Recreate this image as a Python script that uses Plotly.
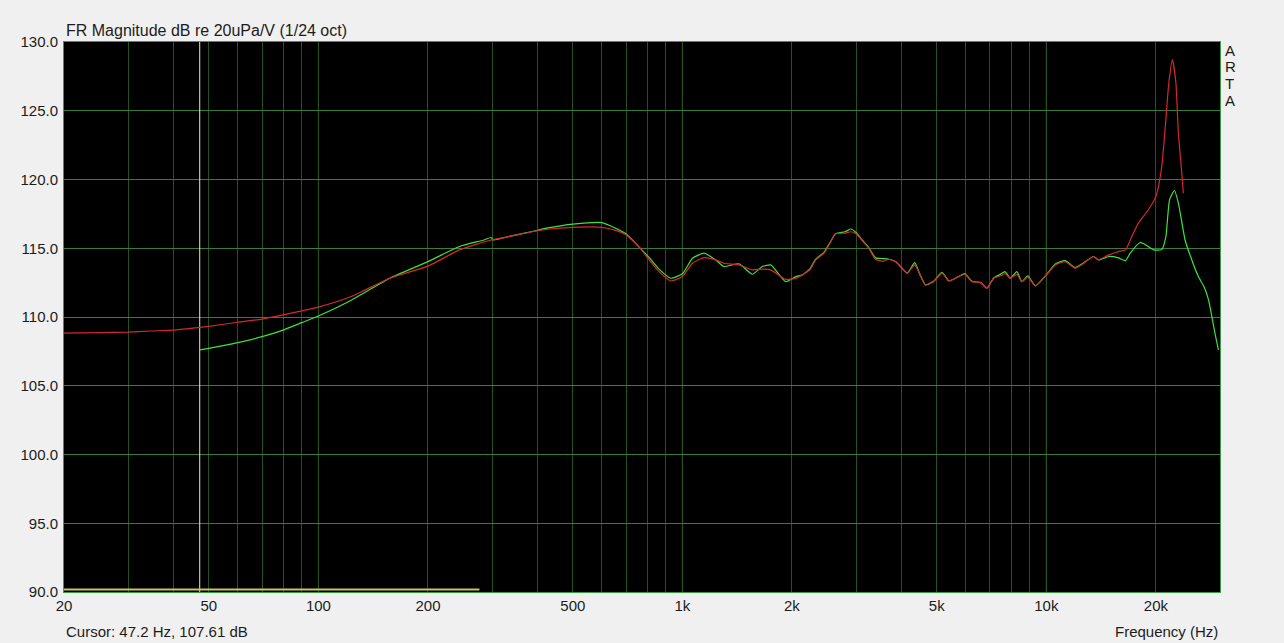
import plotly.graph_objects as go

# ---------------- data ----------------
red_freq = [20, 25, 30, 34.4, 40, 47.2, 50, 60, 70, 80, 90, 100, 122, 157, 200, 244, 298, 340, 387, 431,
            500, 600, 656, 700, 761, 811, 863, 929, 1000, 1066, 1147, 1235, 1300, 1431, 1557, 1658, 1749,
            1922, 2050, 2135, 2240, 2324, 2450, 2530, 2636, 2800, 2898, 3000, 3119, 3250, 3394, 3560, 3691,
            3850, 4014, 4150, 4349, 4500, 4655, 4900, 5169, 5400, 5742, 5970, 6248, 6600, 6868, 7160, 7474,
            7700, 7962, 8300, 8565, 8900, 9327, 10000, 10583, 11260, 12000, 12500, 13480, 13908, 14850,
            15781, 16500, 17168, 17900, 19078, 20000, 20700, 21195, 21700, 22202, 22700, 23053, 23600, 23790]
red_db = [108.83, 108.87, 108.9, 108.98, 109.05, 109.25, 109.32, 109.62, 109.85, 110.15, 110.45, 110.72,
          111.45, 112.82, 113.7, 114.88, 115.6, 115.9, 116.2, 116.4, 116.52, 116.52, 116.3, 115.98, 115.08,
          114.15, 113.3, 112.62, 112.94, 113.91, 114.32, 114.15, 113.91, 113.79, 113.43, 113.48, 113.43,
          112.74, 112.82, 113.06, 113.43, 114.15, 114.64, 115.25, 116.05, 116.1, 116.2, 116.05, 115.56,
          115.0, 114.2, 114.05, 114.2, 114.03, 113.55, 113.19, 113.79, 113.06, 112.33, 112.57, 113.19,
          112.62, 112.94, 113.11, 112.57, 112.5, 112.09, 112.82, 113.0, 113.15, 112.82, 113.1, 112.57,
          112.9, 112.26, 113.06, 113.79, 114.03, 113.55, 113.8, 114.4, 114.15, 114.52, 114.76, 114.88,
          115.85, 116.83, 117.8, 118.77, 120.71, 123.63, 127.02, 128.72, 127.0, 123.38, 120.22, 119.0]

green_freq = [47.2, 50, 60, 70, 80, 90, 100, 122, 157, 200, 244, 285, 298, 302, 340, 387, 431, 500, 600,
              656, 700, 761, 811, 863, 929, 1000, 1066, 1147, 1235, 1300, 1431, 1557, 1658, 1749, 1922,
              2050, 2135, 2240, 2324, 2450, 2530, 2636, 2800, 2898, 3000, 3119, 3250, 3394, 3560, 3691,
              3850, 4014, 4150, 4349, 4500, 4655, 4900, 5169, 5400, 5742, 5970, 6248, 6600, 6868, 7160,
              7474, 7700, 7962, 8300, 8565, 8900, 9327, 10000, 10583, 11260, 12000, 12500, 13480, 13908,
              14850, 15781, 16500, 16996, 18100, 18600, 19700, 20750, 21300, 21800, 22486, 23053, 24049,
              24900, 26160, 27100, 27900, 29060, 29700]
green_db = [107.61, 107.72, 108.13, 108.57, 109.05, 109.59, 110.07, 111.17, 112.82, 114.03, 115.13, 115.6,
            115.78, 115.6, 115.9, 116.22, 116.5, 116.76, 116.87, 116.46, 116.05, 115.08, 114.32, 113.48,
            112.82, 113.14, 114.27, 114.64, 114.15, 113.67, 113.87, 113.11, 113.67, 113.79, 112.57, 112.94,
            113.06, 113.5, 114.2, 114.7, 115.3, 116.05, 116.2, 116.4, 116.15, 115.6, 115.05, 114.3, 114.25,
            114.2, 114.03, 113.55, 113.19, 113.96, 113.06, 112.33, 112.6, 113.25, 112.62, 112.94, 113.15,
            112.6, 112.5, 112.09, 112.82, 113.1, 113.3, 112.82, 113.3, 112.57, 113.0, 112.26, 113.06,
            113.85, 114.1, 113.6, 113.85, 114.4, 114.15, 114.4, 114.3, 114.1, 114.64, 115.42, 115.3,
            114.88, 114.9, 115.85, 118.52, 119.2, 118.28, 115.6, 114.4, 112.94, 112.21, 111.24, 108.81, 107.6]

floor_freq = [20, 277]
floor_db = [90.18, 90.18]

cursor_freq = 47.2
cursor_db = 107.61

x_tick_vals = [20, 50, 100, 200, 500, 1000, 2000, 5000, 10000, 20000]
x_tick_text = ["20", "50", "100", "200", "500", "1k", "2k", "5k", "10k", "20k"]
grid_freqs = [20, 30, 40, 50, 60, 70, 80, 90, 100, 200, 300, 400, 500, 600, 700, 800, 900,
              1000, 2000, 3000, 4000, 5000, 6000, 7000, 8000, 9000, 10000, 20000]
decade_freqs = [100, 1000, 10000]
y_tick_vals = [90, 95, 100, 105, 110, 115, 120, 125, 130]

# ---------------- figure ----------------
FONT = "Liberation Sans, Arial, sans-serif"
fig = go.Figure()

fig.add_trace(go.Scatter(x=[cursor_freq, cursor_freq], y=[90, 130], mode="lines",
                         line=dict(color="#ecebc4", width=1), hoverinfo="skip", showlegend=False))
fig.add_trace(go.Scatter(x=floor_freq, y=floor_db, mode="lines",
                         line=dict(color="#cdbf5e", width=2), showlegend=False))
fig.add_trace(go.Scatter(x=green_freq, y=green_db, mode="lines",
                         line=dict(color="#3ee33e", width=1.2, shape="spline", smoothing=0.5),
                         showlegend=False))
fig.add_trace(go.Scatter(x=red_freq, y=red_db, mode="lines",
                         line=dict(color="#d42a2a", width=1.2, shape="spline", smoothing=0.5),
                         showlegend=False))

tick_text_full = [x_tick_text[x_tick_vals.index(v)] if v in x_tick_vals else "" for v in grid_freqs]

fig.update_xaxes(type="log", range=[1.30103, 4.4771], tickvals=grid_freqs, ticktext=tick_text_full,
                 showgrid=True, gridcolor="#24521f", gridwidth=1, ticks="", zeroline=False,
                 showline=True, mirror=True, linecolor="#3c9a46", linewidth=1,
                 tickfont=dict(family=FONT, size=15, color="#1c1c1c"))
fig.update_yaxes(range=[90, 130], tickvals=y_tick_vals, tickformat=".1f",
                 showgrid=True, gridcolor="#3a7c3a", gridwidth=1, ticks="", zeroline=False,
                 showline=True, mirror=True, linecolor="#3c9a46", linewidth=1,
                 ticklabelstandoff=2,
                 tickfont=dict(family=FONT, size=15, color="#1c1c1c"))

for f in decade_freqs:
    fig.add_shape(type="line", xref="x", yref="paper", x0=f, x1=f, y0=0, y1=1,
                  line=dict(color="#3f853f", width=1), layer="below")

ann_font = dict(family=FONT, size=15, color="#1c1c1c")
fig.add_annotation(text="FR Magnitude dB re 20uPa/V (1/24 oct)", xref="paper", yref="paper",
                   x=0, y=1, xanchor="left", yanchor="bottom", yshift=1, showarrow=False,
                   font=dict(family=FONT, size=16, color="#1c1c1c"))
fig.add_annotation(text=f"Cursor: {cursor_freq} Hz, {cursor_db} dB", xref="paper", yref="paper",
                   x=0, y=0, xanchor="left", yanchor="top", yshift=-29, showarrow=False, font=ann_font)
fig.add_annotation(text="Frequency (Hz)", xref="paper", yref="paper",
                   x=1, y=0, xanchor="right", yanchor="top", yshift=-29, showarrow=False, font=ann_font)
for i, ch in enumerate("ARTA"):
    fig.add_annotation(text=ch, xref="paper", yref="paper", x=1, y=1, xanchor="left", yanchor="middle",
                       xshift=3, yshift=-8 - 16.7 * i, showarrow=False, font=ann_font)

fig.update_layout(width=1284, height=643, margin=dict(l=64, r=64, t=42, b=51),
                  paper_bgcolor="#f0f0f0", plot_bgcolor="#000000", showlegend=False,
                  font=dict(family=FONT))

fig.write_html("out.html", config={"displayModeBar": False},
               post_script="document.body.style.margin='0';document.body.style.background='#f0f0f0';")
